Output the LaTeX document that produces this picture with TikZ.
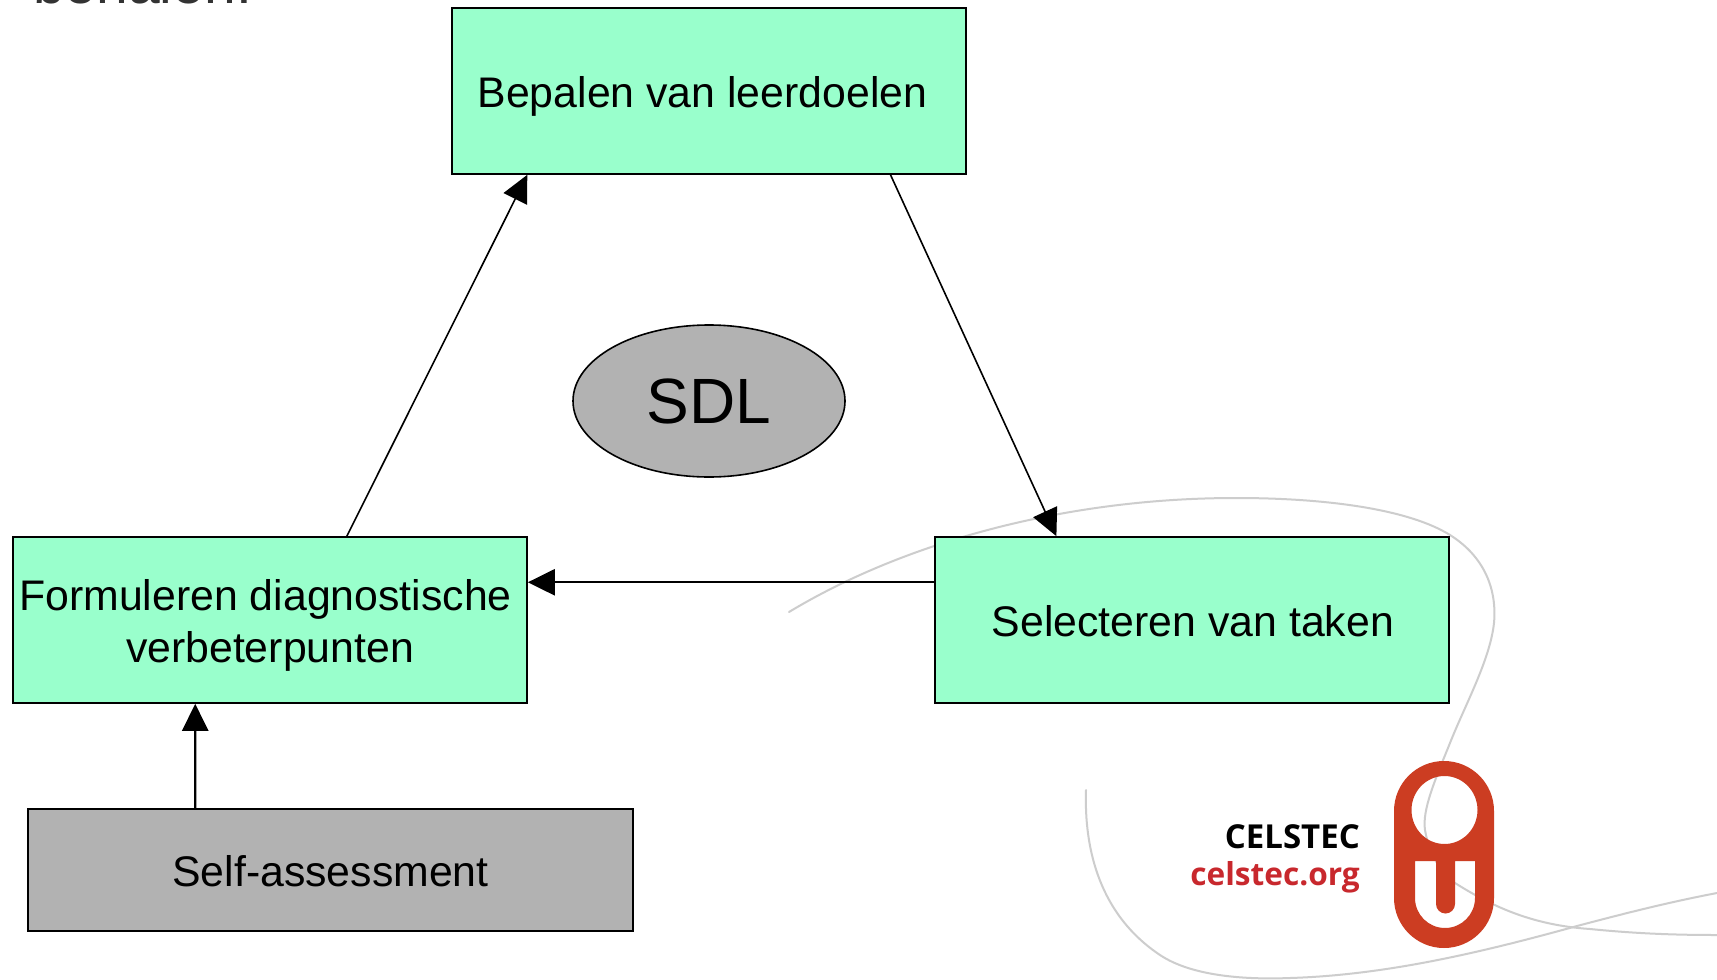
\documentclass[tikz,border=0pt]{standalone}
\usepackage{fontspec}
\setmainfont{Liberation Sans}
\newfontfamily\logofont{Open Sans}
\usetikzlibrary{arrows.meta,calc,shapes.geometric}
\definecolor{boxgreen}{HTML}{99FFCC}
\definecolor{boxgray}{HTML}{B2B2B2}
\definecolor{swoosh}{HTML}{CDCDCD}
\definecolor{ourred}{HTML}{CC3D22}
\definecolor{orgred}{HTML}{C8282D}
\newcommand{\dropby}[2]{\raisebox{-#1}[30pt][10pt]{#2}}
\tikzset{
  x=1pt,y=-1pt,
  stepbox/.style={draw=black,line width=1.6pt,rectangle,inner sep=0pt,align=center,font=\fontsize{42.8}{52}\selectfont},
  greenbox/.style={stepbox,fill=boxgreen,minimum width=514pt,minimum height=166pt},
  flow/.style={draw=black,line width=1.6pt,-{Triangle[length=27pt,width=26pt]}},
  flowstraight/.style={flow,line width=2.4pt},
  swooshline/.style={draw=swoosh,line width=2pt,line cap=round},
}
\begin{document}
\begin{tikzpicture}
\useasboundingbox (0,0) rectangle (1717,980);
\clip (0,0) rectangle (1717,980);
\fill[white] (0,0) rectangle (1717,980);
% clipped heading remnant
\node[anchor=base west,inner sep=0pt,text=black!80,font=\fontsize{57}{60}\selectfont] (head) at (33,3) {behalen.};
% swooshes
\draw[swooshline] (789,612) .. controls (900,545) and (1060,498) .. (1236,498)
  .. controls (1330,498) and (1410,510) .. (1450,535)
  .. controls (1485,557) and (1497,590) .. (1494,623)
  .. controls (1490,660) and (1465,705) .. (1450,743)
  .. controls (1435,780) and (1422,810) .. (1425,830)
  .. controls (1430,860) and (1445,875) .. (1455,883)
  .. controls (1490,905) and (1530,925) .. (1590,929)
  .. controls (1640,934) and (1680,935) .. (1717,935);
\draw[swooshline] (1086,790) .. controls (1084,850) and (1100,915) .. (1160,955)
  .. controls (1190,975) and (1240,980) .. (1290,978)
  .. controls (1390,975) and (1490,950) .. (1577,926)
  .. controls (1630,912) and (1670,902) .. (1717,893);
% logo
\fill[ourred,even odd rule]
  (1394,811) arc[start angle=180,end angle=360,radius=50]
  -- (1494,898) arc[start angle=0,end angle=180,radius=50] -- cycle
  (1444.5,810) ellipse[x radius=33,y radius=34]
  (1415,861) -- (1436,861) -- (1436,904) arc[start angle=180,end angle=0,radius=9.5] -- (1455,861) -- (1475,861) -- (1475,898) arc[start angle=0,end angle=180,radius=30] -- cycle;
\node[anchor=base east,inner sep=0pt,font=\logofont\bfseries\fontsize{33}{36}\selectfont,text=black] (celstec) at (1360,848) {CELSTEC};
\node[anchor=base east,inner sep=0pt,font=\logofont\bfseries\fontsize{31.6}{34}\selectfont,text=orgred] (org) at (1360,885) {celstec.org};
% boxes
\node[greenbox] (bep) at (709,91) {\dropby{6.5pt}{Bepalen van leerdoelen}\hspace*{13pt}};
\node[greenbox] (sel) at (1192,620) {\dropby{6pt}{\hspace*{2pt}Selecteren van taken}};
\node[greenbox] (form) at (270,620) {\dropby{6pt}{Formuleren diagnostische}\hspace*{9pt}\\\dropby{6pt}{verbeterpunten}};
\node[stepbox,fill=boxgray,minimum width=605pt,minimum height=122pt] (self) at (330.5,870) {\dropby{6pt}{Self-assessment}};
\node[draw=black,line width=1.6pt,fill=boxgray,ellipse,minimum width=272pt,minimum height=152pt,inner sep=0pt,font=\fontsize{64}{70}\selectfont] (sdl) at (709,401) {\raisebox{-7.5pt}[40pt][10pt]{SDL}};
% connectors
\draw[flow] ($(form.north west)!0.649!(form.north east)$) -- ($(bep.south west)!0.1476!(bep.south east)$);
\draw[flow] ($(bep.south west)!0.852!(bep.south east)$) -- ($(sel.north west)!0.237!(sel.north east)$);
\draw[flowstraight] ($(sel.north west)!0.275!(sel.south west)$) -- ($(form.north east)!0.275!(form.south east)$);
\draw[flowstraight] ($(self.north west)!0.277!(self.north east)$) -- ($(form.south west)!0.355!(form.south east)$);
\end{tikzpicture}
\end{document}
